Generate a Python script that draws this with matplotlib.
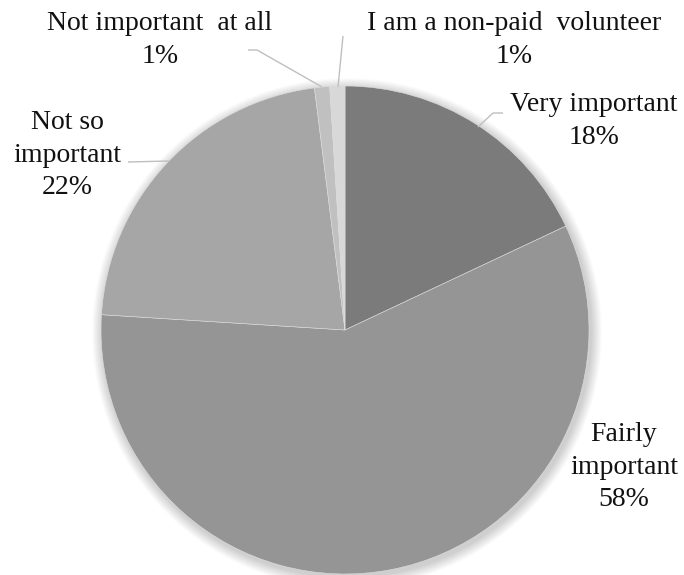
import matplotlib
matplotlib.use("Agg")
import matplotlib.pyplot as plt
from matplotlib.patches import Circle
from matplotlib import font_manager

# Survey answers, clockwise from 12 o'clock
categories = ["Very important", "Fairly important", "Not so important",
              "Not important at all", "I am a non-paid volunteer"]
shares = [18, 58, 22, 1, 1]
label_texts = ["Very important", "Fairly\nimportant", "Not so\nimportant",
               "Not important  at all", "I am a non-paid  volunteer"]
colors = ["#7b7b7b", "#959595", "#a6a6a6", "#c0c0c0", "#d8d8d8"]

serif_names = [f.name for f in font_manager.fontManager.ttflist if "Serif" in f.name]
serif_family = "Liberation Serif" if "Liberation Serif" in serif_names else "DejaVu Serif"

W, H = 684, 575
fig = plt.figure(figsize=(W / 100, H / 100), dpi=100)
ax = fig.add_axes([0, 0, 1, 1])

cx, cy, R = 345, 330, 244

# soft shadow around the pie
for k in range(12, 0, -1):
    ax.add_patch(Circle((cx + 2, cy + 3), R + k * 0.9, facecolor="#000000",
                        edgecolor="none", alpha=0.015, zorder=1))

# y axis is inverted below, so counter-clockwise in data space runs clockwise on screen
ax.pie(shares, colors=colors, startangle=-90, counterclock=True,
       center=(cx, cy), radius=R, frame=True,
       wedgeprops=dict(edgecolor="#dedede", linewidth=0.4, zorder=2))
ax.set_xlim(0, W)
ax.set_ylim(H, 0)
ax.set_aspect("equal")
ax.axis("off")

font = dict(family=[serif_family, "DejaVu Serif"], fontsize=20, color="#111111",
            ha="center", va="center", linespacing=1.4, zorder=5)

label_pos = [(594, 121), (624, 467), (67, 155), (160, 40), (514, 40)]
for txt, v, (x, y) in zip(label_texts, shares, label_pos):
    ax.text(x, y, f"{txt}\n{v}%", **font)

leader = dict(color="#bfbfbf", linewidth=1.0, zorder=4, solid_capstyle="butt")
leaders = [
    ([478, 493, 503], [127, 113, 113]),
    ([128, 169], [162, 161]),
    ([248, 257, 322], [50, 50, 87]),
    ([343, 338], [36, 87]),
]
for xs, ys in leaders:
    ax.plot(xs, ys, **leader)

fig.savefig("out.png", dpi=100, facecolor="white")
